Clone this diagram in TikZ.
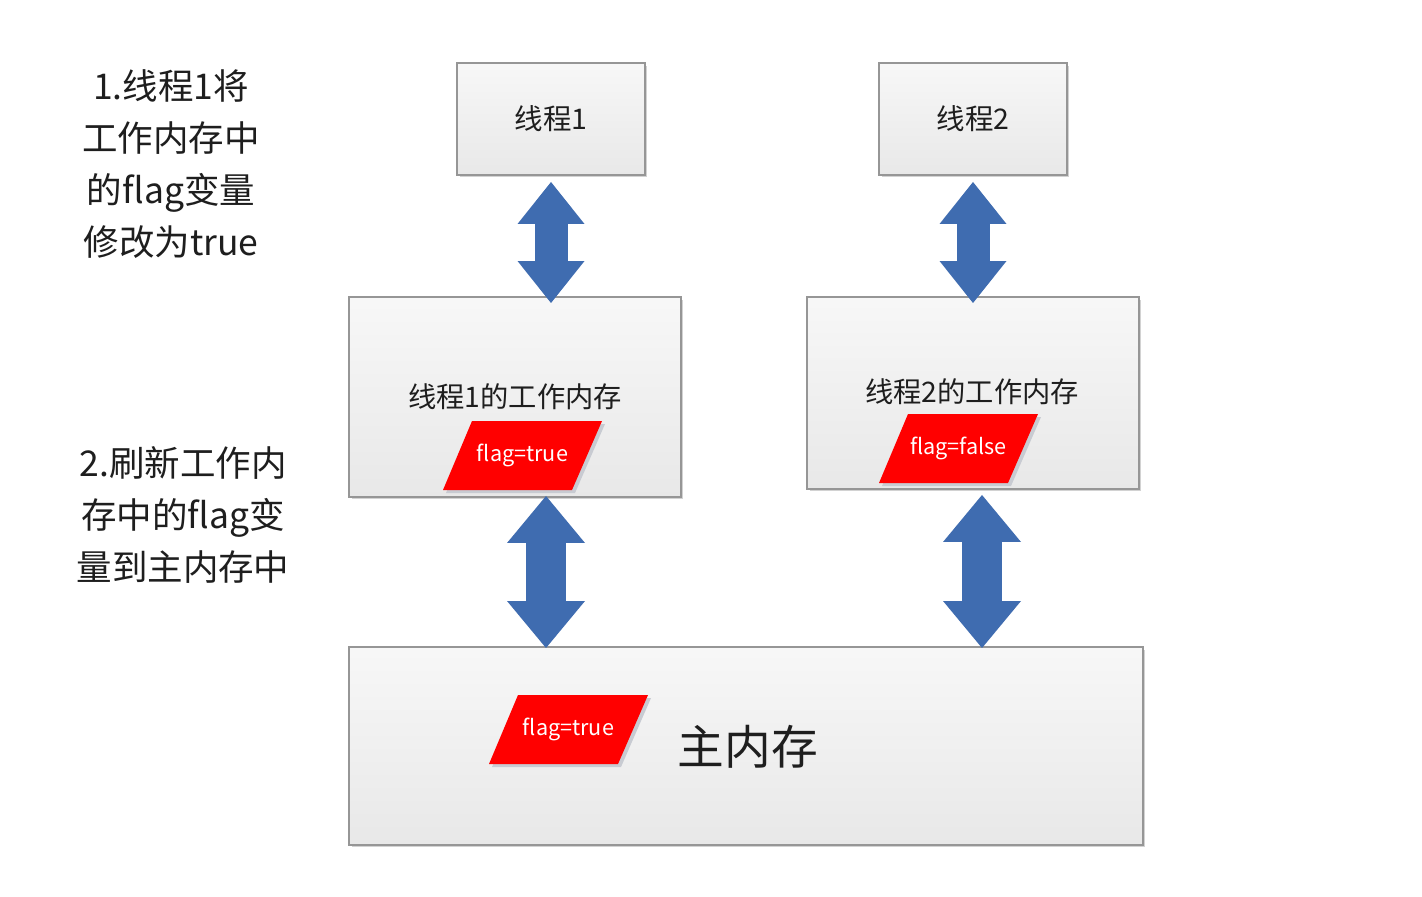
\documentclass[tikz,border=0pt]{standalone}
\usepackage{fontspec}
\setmainfont{Noto Sans CJK SC}
\usetikzlibrary{arrows.meta,calc,shadows}
\definecolor{arrblue}{RGB}{63,108,176}
\definecolor{boxline}{RGB}{150,150,150}
\definecolor{txt}{RGB}{30,30,30}
\definecolor{flagred}{RGB}{255,0,0}
\definecolor{flagshadow}{RGB}{200,203,210}
\newcommand\flagbox[4]{%
  \fill[flagshadow] (#2+3,#3+3) -- ++(130,0) -- ++(-30,69) -- ++(-129,0) -- cycle;
  \fill[flagred] (#2,#3) -- ++(130,0) -- ++(-30,69) -- ++(-129,0) -- cycle;
  \node[flagtext] (#1) at (#2+50.5,#3+34.5) {#4};
}
\begin{document}
\begin{tikzpicture}[x=0.02cm,y=-0.02cm,
  box/.style={draw=boxline, line width=0.04cm, top color=white!97!black,
    bottom color=white!91!black, inner sep=0pt,
    drop shadow={shadow xshift=0.05cm, shadow yshift=-0.05cm, fill=black!35, opacity=0.5}},
  label/.style={text=txt, inner sep=0pt},
  flagtext/.style={text=white, font=\fontsize{12.3}{15}\selectfont, inner sep=0pt},
  side/.style={text=txt, align=center, inner sep=0pt, font=\fontsize{20.2}{29.5}\selectfont},
  smallarrow/.style={draw=arrblue, line width=0.66cm,
    arrows={Triangle[width=1.34cm,length=0.84cm,line width=0pt]-Triangle[width=1.34cm,length=0.84cm,line width=0pt]}},
  bigarrow/.style={draw=arrblue, line width=0.79cm,
    arrows={Triangle[width=1.56cm,length=0.94cm,line width=0pt]-Triangle[width=1.56cm,length=0.94cm,line width=0pt]}}
]
\useasboundingbox (0,0) rectangle (1422,896);
\fill[white] (0,0) rectangle (1422,896);

% boxes
\node[box, minimum width=3.76cm, minimum height=2.24cm] (t1) at (551,119) {};
\node[box, minimum width=3.76cm, minimum height=2.24cm] (t2) at (973,119) {};
\node[box, minimum width=6.64cm, minimum height=4.00cm] (w1) at (515,397) {};
\node[box, minimum width=6.64cm, minimum height=3.84cm] (w2) at (973,393) {};
\node[box, minimum width=15.88cm, minimum height=3.96cm] (mm) at (746,746) {};

% box labels
\node[label, font=\fontsize{16.2}{18}\selectfont] (t1l) at (551,119) {线程1};
\node[label, font=\fontsize{16.2}{18}\selectfont] (t2l) at (973,119) {线程2};
\node[label, font=\fontsize{16.1}{19}\selectfont] (w1l) at (515,397) {线程1的工作内存};
\node[label, font=\fontsize{16.1}{19}\selectfont] (w2l) at (972,392) {线程2的工作内存};
\node[label, font=\fontsize{26.6}{30}\selectfont] (mml) at (748,747) {主内存};

% flags
\flagbox{f1}{472}{421}{flag=true}
\flagbox{f2}{908}{414}{flag=false}
\flagbox{f3}{518}{695}{flag=true}

% arrows
\coordinate (a1s) at ($(t1.south)+(0,6)$);
\coordinate (a1e) at ($(t1.south)+(0,127)$);
\coordinate (a2s) at ($(t2.south)+(0,6)$);
\coordinate (a2e) at ($(t2.south)+(0,127)$);
\coordinate (a3s) at ($(w1.south)+(31,-2)$);
\coordinate (a3e) at ($(w1.south)+(31,150)$);
\coordinate (a4s) at ($(w2.south)+(9,5)$);
\coordinate (a4e) at ($(w2.south)+(9,158)$);
\draw[smallarrow] (a1s) -- (a1e);
\draw[smallarrow] (a2s) -- (a2e);
\draw[bigarrow] (a3s) -- (a3e);
\draw[bigarrow] (a4s) -- (a4e);

% side notes
\node[side] (n1) at (171,164) {1.线程1将\\工作内存中\\的flag变量\\修改为true};
\node[side] (n2) at (183,515) {2.刷新工作内\\存中的flag变\\量到主内存中};
\end{tikzpicture}
\end{document}
